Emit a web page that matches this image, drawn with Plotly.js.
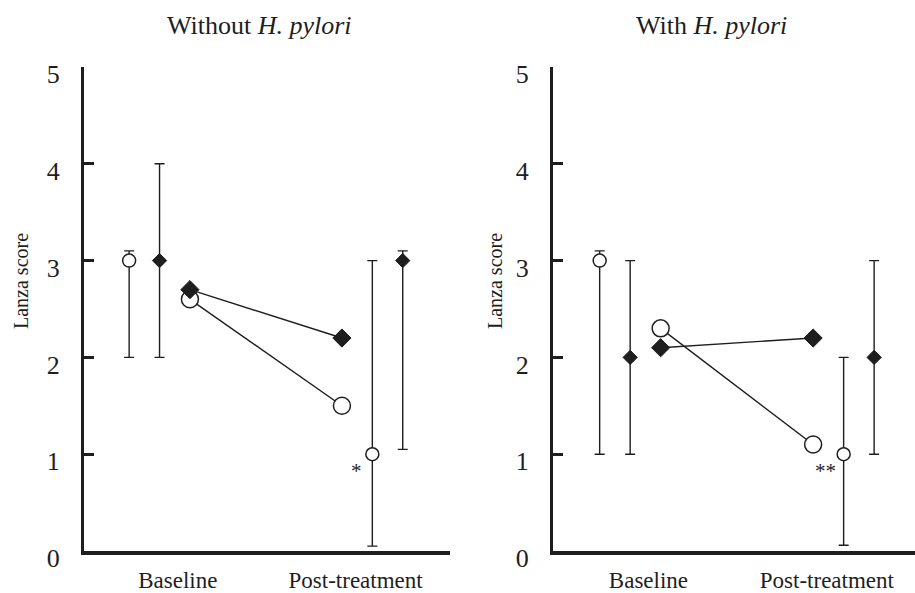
<!DOCTYPE html>
<html>
<head>
<meta charset="utf-8">
<script src="https://cdn.plot.ly/plotly-3.0.1.min.js"></script>
<style>
  html, body { margin: 0; padding: 0; background: #fff; }
  #chart { width: 915px; height: 593px; }
</style>
</head>
<body>
<div id="chart"></div>
<script>
// ---- data ----
const categories = ['Baseline', 'Post-treatment'];
const panelTitles = ['Without <i>H. pylori</i>', 'With <i>H. pylori</i>'];
const yTickVals = [0, 1, 2, 3, 4, 5];
const yTickText = ['0', '1', '2', '3', '4', '5'];
const yLabel = 'Lanza score';

// Without H. pylori
const woCircleMean = [2.6, 1.5];
const woDiamondMean = [2.7, 2.2];
const woCircleMed = [3, 1];
const woCircleLo = [2, 0.05];
const woCircleHi = [3.1, 3];
const woDiamondMed = [3, 3];
const woDiamondLo = [2, 1.05];
const woDiamondHi = [4, 3.1];
const woSignif = '*';

// With H. pylori
const wCircleMean = [2.3, 1.1];
const wDiamondMean = [2.1, 2.2];
const wCircleMed = [3, 1];
const wCircleLo = [1, 0.06];
const wCircleHi = [3.1, 2];
const wDiamondMed = [2, 2];
const wDiamondLo = [1, 1];
const wDiamondHi = [3, 3];
const wSignif = '**';

// ---- drawing ----
const INK = '#1e1e1e';
const FONT = 'Liberation Serif, Times New Roman, serif';
const W = 915, H = 593;

const groupX = [1, 2];
const circleMedX = [1 - 0.4, 2 + 0.2];
const diamondMedX = [1 - 0.2, 2 + 0.4];
const catLabelX = [0.92, 2.09];

function panelTraces(ax, cm, dm, cmed, clo, chi, dmed, dlo, dhi) {
  const xa = ax === 1 ? 'x' : 'x2';
  const ya = ax === 1 ? 'y' : 'y2';
  return [
    { x: groupX, y: cm, xaxis: xa, yaxis: ya, type: 'scatter', mode: 'lines+markers',
      line: { color: INK, width: 1.4 },
      marker: { symbol: 'circle', size: 17, color: '#fff', line: { color: INK, width: 1.5 } },
      cliponaxis: false, hoverinfo: 'skip' },
    { x: groupX, y: dm, xaxis: xa, yaxis: ya, type: 'scatter', mode: 'lines+markers',
      line: { color: INK, width: 1.4 },
      marker: { symbol: 'diamond', size: 14, color: INK, line: { color: INK, width: 1 } },
      cliponaxis: false, hoverinfo: 'skip' },
    { x: circleMedX, y: cmed, xaxis: xa, yaxis: ya, type: 'scatter', mode: 'markers',
      marker: { symbol: 'circle', size: 13, color: '#fff', line: { color: INK, width: 1.5 } },
      error_y: { type: 'data', symmetric: false,
        array: chi.map((v, i) => v - cmed[i]), arrayminus: clo.map((v, i) => cmed[i] - v),
        color: INK, thickness: 1.4, width: 5 },
      cliponaxis: false, hoverinfo: 'skip' },
    { x: diamondMedX, y: dmed, xaxis: xa, yaxis: ya, type: 'scatter', mode: 'markers',
      marker: { symbol: 'diamond', size: 11, color: INK, line: { color: INK, width: 1 } },
      error_y: { type: 'data', symmetric: false,
        array: dhi.map((v, i) => v - dmed[i]), arrayminus: dlo.map((v, i) => dmed[i] - v),
        color: INK, thickness: 1.4, width: 5 },
      cliponaxis: false, hoverinfo: 'skip' }
  ];
}

const traces = [].concat(
  panelTraces(1, woCircleMean, woDiamondMean, woCircleMed, woCircleLo, woCircleHi, woDiamondMed, woDiamondLo, woDiamondHi),
  panelTraces(2, wCircleMean, wDiamondMean, wCircleMed, wCircleLo, wCircleHi, wDiamondMed, wDiamondLo, wDiamondHi)
);

const yDomain = [(H - 551) / H, (H - 67) / H];

function xAxis(domain, range) {
  return {
    domain: domain, range: range, showgrid: false, zeroline: false,
    showline: true, linecolor: INK, linewidth: 4,
    ticks: '', tickvals: catLabelX, ticktext: categories,
    tickfont: { family: FONT, size: 23, color: INK },
    ticklabelstandoff: 5, fixedrange: true
  };
}
function yAxis(anchor) {
  return {
    domain: yDomain, range: [0, 5], anchor: anchor, showgrid: false, zeroline: false,
    showline: true, linecolor: INK, linewidth: 3,
    ticks: 'inside', ticklen: 10, tickwidth: 3, tickcolor: INK,
    tickvals: yTickVals, ticktext: yTickText,
    tickfont: { family: FONT, size: 26, color: INK },
    ticklabelstandoff: 16, ticklabelshift: 7, fixedrange: true
  };
}

const layout = {
  width: W, height: H,
  margin: { l: 0, r: 0, t: 0, b: 0 },
  paper_bgcolor: '#fff', plot_bgcolor: 'rgba(0,0,0,0)',
  showlegend: false,
  xaxis: Object.assign(xAxis([84 / W, 450 / W], [0.303, 2.711]), { anchor: 'y' }),
  yaxis: yAxis('x'),
  xaxis2: Object.assign(xAxis([553 / W, 1], [0.294, 2.668]), { anchor: 'y2' }),
  yaxis2: yAxis('x2'),
  annotations: [
    { text: panelTitles[0], xref: 'paper', yref: 'paper', x: 259.5 / W, y: 1 - 25 / H,
      xanchor: 'center', yanchor: 'middle', showarrow: false,
      font: { family: FONT, size: 26, color: INK } },
    { text: panelTitles[1], xref: 'paper', yref: 'paper', x: 711.5 / W, y: 1 - 25 / H,
      xanchor: 'center', yanchor: 'middle', showarrow: false,
      font: { family: FONT, size: 26, color: INK } },
    { text: yLabel, xref: 'paper', yref: 'paper', x: 21 / W, y: 1 - 281 / H, textangle: -90,
      xanchor: 'center', yanchor: 'middle', showarrow: false,
      font: { family: FONT, size: 20, color: INK } },
    { text: yLabel, xref: 'paper', yref: 'paper', x: 495 / W, y: 1 - 281 / H, textangle: -90,
      xanchor: 'center', yanchor: 'middle', showarrow: false,
      font: { family: FONT, size: 20, color: INK } },
    { text: woSignif, xref: 'x', yref: 'y', x: circleMedX[1] - 0.105, y: 0.83,
      xanchor: 'center', yanchor: 'middle', showarrow: false,
      font: { family: FONT, size: 21, color: INK } },
    { text: wSignif, xref: 'x2', yref: 'y2', x: circleMedX[1] - 0.12, y: 0.83,
      xanchor: 'center', yanchor: 'middle', showarrow: false,
      font: { family: FONT, size: 21, color: INK } }
  ]
};

Plotly.newPlot('chart', traces, layout, { staticPlot: true, displayModeBar: false });
</script>
</body>
</html>
